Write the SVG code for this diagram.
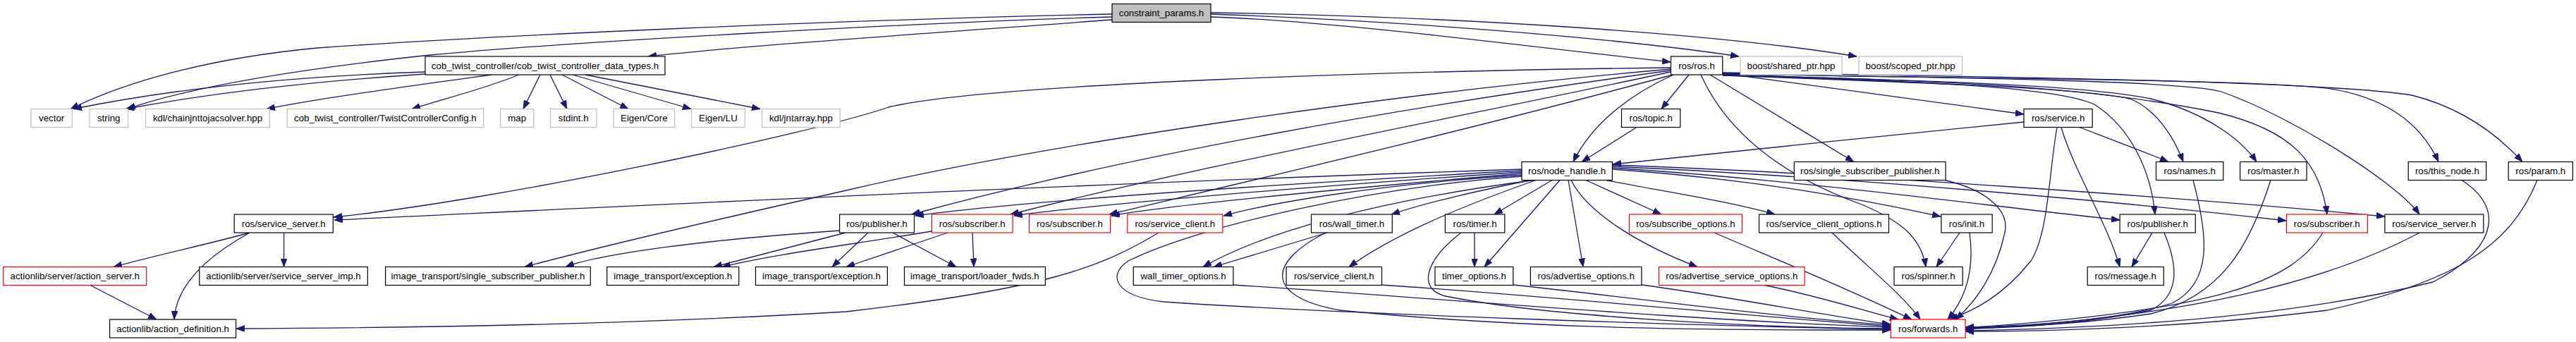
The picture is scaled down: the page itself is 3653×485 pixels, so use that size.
<svg xmlns="http://www.w3.org/2000/svg" width="3653" height="485" viewBox="0 0 3653 485">
<style>
.bg{fill:#ffffff}
.n rect{fill:#ffffff;stroke:#000000;stroke-width:1.2}
.g rect{fill:#ffffff;stroke:#bfbfbf;stroke-width:1.2}
.r rect{fill:#ffffff;stroke:#ff0000;stroke-width:1.2}
.root rect{fill:#bfbfbf;stroke:#000000;stroke-width:1.2}
text{font-family:"Liberation Sans",Arial,sans-serif;font-size:13.3px;fill:#000000;text-anchor:middle}
#edges path{fill:none;stroke:#191970;stroke-width:1.3;marker-end:url(#arr)}
</style>
<defs>
<marker id="arr" viewBox="0 0 12 9" refX="12" refY="4.5" markerWidth="12" markerHeight="9" orient="auto" markerUnits="userSpaceOnUse">
<path d="M0,0 L12,4.5 L0,9 z" fill="#191970" stroke="#191970" stroke-width="0.8"/>
</marker>
</defs>
<rect class="bg" x="0" y="0" width="3653" height="485"/>
<g id="edges">
<path d="M1577,20 C1200,28 700,50 450,68 C300,82 180,115 100,154.5"/>
<path d="M1577,24 C1300,32 800,60 610,78 C450,95 280,120 180,154.5"/>
<path d="M1577,28 C1350,45 1050,65 919,80"/>
<path d="M1717,24 C1900,30 2200,70 2369,88"/>
<path d="M1717,20 C2000,30 2300,55 2466,80"/>
<path d="M1717,18 C2100,24 2450,50 2633,80"/>
<path d="M603,102 C420,108 250,125 104,154.5"/>
<path d="M603,105 C450,115 300,132 178,154.5"/>
<path d="M697,106 C560,125 450,140 378,154.5"/>
<path d="M736,106 C690,125 630,140 584,154.5"/>
<path d="M766,106 L742,154.5"/>
<path d="M780,106 L804,154.5"/>
<path d="M797,106 L891,154.5"/>
<path d="M812,106 L980,154.5"/>
<path d="M830,106 L1078,154.5"/>
<path d="M2395,106 L2356,154.5"/>
<path d="M2373,106 C2320,130 2260,170 2231,229.5"/>
<path d="M2321,180.5 L2243,229.5"/>
<path d="M2425,106 L2629,229.5"/>
<path d="M2443,104 L2870,162"/>
<path d="M2369,96 C2000,100 1400,118 1260,152 C1150,190 700,285 473,308"/>
<path d="M2369,98 C2000,130 1500,200 1200,270 C1000,315 850,350 744,378.5"/>
<path d="M2369,100 C2000,150 1600,220 1293,304"/>
<path d="M2369,102 C2100,160 1700,235 1433,304"/>
<path d="M2372,106 C2100,180 1800,250 1573,304"/>
<path d="M2412,106 C2450,190 2530,250 2640,290 C2700,315 2725,340 2731,378.5"/>
<path d="M2443,104 C2700,112 3150,110 3300,125 C3400,140 3440,190 3458,229.5"/>
<path d="M2443,103 C2800,108 3300,115 3420,135 C3500,155 3550,200 3577,229.5"/>
<path d="M2443,105 C2800,110 3100,115 3150,130 C3250,165 3400,260 3431,304"/>
<path d="M2443,106 C2750,115 2950,120 3050,140 C3130,160 3180,200 3200,229.5"/>
<path d="M2443,107 C2750,118 2950,125 3020,140 C3060,155 3085,200 3096,229.5"/>
<path d="M2443,106 C2750,115 2950,120 3146,160 C3250,185 3290,230 3300,304"/>
<path d="M2443,107 C2750,115 2920,125 2970,148 C3020,180 3050,240 3056,304"/>
<path d="M2870,173 C2700,190 2450,215 2287,233"/>
<path d="M2949,180.5 C3000,200 3040,215 3075,229.5"/>
<path d="M2923,180.5 C2940,240 2990,320 3006,378.5"/>
<path d="M2917,180.5 C2905,250 2905,330 2880,370 C2840,420 2800,440 2765,453"/>
<path d="M2158,240 C1500,262 900,292 474,312"/>
<path d="M2158,242 C1800,262 1450,285 1298,306"/>
<path d="M2158,244 C1850,265 1550,290 1438,306"/>
<path d="M2158,246 C1900,268 1650,292 1576,306"/>
<path d="M2160,248 C1950,262 1800,288 1735,306"/>
<path d="M2158,250 C1950,265 1700,320 1600,370 C1570,390 1580,420 1650,428 C1900,445 2400,462 2681,467"/>
<path d="M2170,255.5 C2100,270 2030,285 1973,304"/>
<path d="M2175,255.5 C1950,285 1790,330 1706,378.5"/>
<path d="M2178,255.5 C2080,290 1980,330 1913,378.5"/>
<path d="M2201,255.5 L2119,304"/>
<path d="M2212,255.5 L2105,378.5"/>
<path d="M2224,255.5 L2245,378.5"/>
<path d="M2228,255.5 C2250,300 2320,345 2407,378.5"/>
<path d="M2249,255.5 L2356,304"/>
<path d="M2278,255.5 C2350,270 2450,285 2517,304"/>
<path d="M2286,240 C2500,255 2650,285 2752,307"/>
<path d="M2286,238 C2550,255 2800,290 3006,312"/>
<path d="M2286,236 C2600,250 3000,285 3242,313"/>
<path d="M2286,234 C2600,245 3100,280 3382,307"/>
<path d="M354,330 C300,345 230,360 161,378.5"/>
<path d="M402.6,330 L402.6,378.5"/>
<path d="M354,330 C300,360 250,400 247,453"/>
<path d="M128,404.5 L222,453"/>
<path d="M1643,330 C1560,380 1480,410 1200,442 C900,460 600,465 335,466"/>
<path d="M1190.6,327 C1000,340 850,360 802,378.5"/>
<path d="M1199,330 L1012,378.5"/>
<path d="M1231,330 L1180,378.5"/>
<path d="M1266,330 L1356,378.5"/>
<path d="M1321,328 C1200,348 1100,360 1024,378.5"/>
<path d="M1344,330 L1200,378.5"/>
<path d="M1379,330 L1381,378.5"/>
<path d="M1882,330 L1721,378.5"/>
<path d="M1880,330 C1800,370 1790,420 1900,440 C2200,470 2500,468 2681,468"/>
<path d="M2091,330 L2091,378.5"/>
<path d="M2072,330 C2020,370 2010,410 2050,420 C2200,450 2500,465 2681,466"/>
<path d="M1959,404 C2200,420 2500,450 2681,463"/>
<path d="M2146,404 C2300,420 2500,448 2681,461"/>
<path d="M2328,404 C2450,420 2600,450 2681,460"/>
<path d="M1749,404 C2000,420 2400,455 2681,464"/>
<path d="M2500,404 C2580,420 2640,440 2692,453"/>
<path d="M2431,330 C2500,360 2600,400 2711,453"/>
<path d="M2598,330 C2650,380 2700,420 2723,453"/>
<path d="M2779,330 L2746,378.5"/>
<path d="M2793,330 C2800,380 2790,420 2762,453"/>
<path d="M2758,255.5 C2820,270 2850,300 2843,330 C2830,390 2800,430 2773,453"/>
<path d="M3052,330 L3023,378.5"/>
<path d="M3069,330 C3090,380 3090,420 3050,440 C2950,460 2850,465 2787,466"/>
<path d="M3110,255.5 C3130,330 3140,400 3080,430 C3000,455 2880,462 2787,464"/>
<path d="M3220,255.5 C3190,350 3150,420 3050,445 C2950,460 2850,464 2787,465"/>
<path d="M3294,330 C3250,400 3150,440 2787,465"/>
<path d="M3431,330 C3300,400 3100,450 2787,467"/>
<path d="M3491,255.5 C3560,300 3530,360 3450,400 C3250,450 3000,465 2787,469"/>
<path d="M3598,255.5 C3560,350 3480,400 3300,440 C3100,465 2900,470 2787,470"/>
</g>
<g id="n0" class="root"><rect x="1577" y="5.5" width="140" height="26"/><text x="1647" y="23">constraint_params.h</text></g>
<g id="n1" class="n"><rect x="603" y="80" width="340" height="26"/><text x="773" y="97.5">cob_twist_controller/cob_twist_controller_data_types.h</text></g>
<g id="n2" class="n"><rect x="2369.5" y="80" width="73.3" height="26"/><text x="2406" y="97.5">ros/ros.h</text></g>
<g id="n3" class="g"><rect x="2468" y="80" width="144" height="26"/><text x="2540" y="97.5">boost/shared_ptr.hpp</text></g>
<g id="n4" class="g"><rect x="2636" y="80" width="146.5" height="26"/><text x="2709.2" y="97.5">boost/scoped_ptr.hpp</text></g>
<g id="n5" class="g"><rect x="44" y="154.5" width="58.3" height="26"/><text x="73.2" y="172">vector</text></g>
<g id="n6" class="g"><rect x="127" y="154.5" width="54.5" height="26"/><text x="154.2" y="172">string</text></g>
<g id="n7" class="g"><rect x="206.6" y="154.5" width="175.8" height="26"/><text x="294.5" y="172">kdl/chainjnttojacsolver.hpp</text></g>
<g id="n8" class="g"><rect x="407.3" y="154.5" width="278.3" height="26"/><text x="546.4" y="172">cob_twist_controller/TwistControllerConfig.h</text></g>
<g id="n9" class="g"><rect x="709.7" y="154.5" width="47.1" height="26"/><text x="733.2" y="172">map</text></g>
<g id="n10" class="g"><rect x="780.5" y="154.5" width="65.4" height="26"/><text x="813.2" y="172">stdint.h</text></g>
<g id="n11" class="g"><rect x="870" y="154.5" width="86.7" height="26"/><text x="913.3" y="172">Eigen/Core</text></g>
<g id="n12" class="g"><rect x="980.5" y="154.5" width="75.8" height="26"/><text x="1018.4" y="172">Eigen/LU</text></g>
<g id="n13" class="g"><rect x="1080.5" y="154.5" width="110.8" height="26"/><text x="1135.9" y="172">kdl/jntarray.hpp</text></g>
<g id="n14" class="n"><rect x="2299.5" y="154.5" width="83.3" height="26"/><text x="2341.2" y="172">ros/topic.h</text></g>
<g id="n15" class="n"><rect x="2870" y="154.5" width="97.2" height="26"/><text x="2918.6" y="172">ros/service.h</text></g>
<g id="n16" class="n"><rect x="2158" y="229.5" width="128.4" height="26"/><text x="2222.2" y="247">ros/node_handle.h</text></g>
<g id="n17" class="n"><rect x="2544.3" y="229.5" width="214.8" height="26"/><text x="2651.7" y="247">ros/single_subscriber_publisher.h</text></g>
<g id="n18" class="n"><rect x="3057.5" y="229.5" width="95.3" height="26"/><text x="3105.2" y="247">ros/names.h</text></g>
<g id="n19" class="n"><rect x="3176.6" y="229.5" width="94.5" height="26"/><text x="3223.8" y="247">ros/master.h</text></g>
<g id="n20" class="n"><rect x="3415.2" y="229.5" width="110.4" height="26"/><text x="3470.4" y="247">ros/this_node.h</text></g>
<g id="n21" class="n"><rect x="3557.2" y="229.5" width="91.2" height="26"/><text x="3602.8" y="247">ros/param.h</text></g>
<g id="n22" class="n"><rect x="332.2" y="304" width="140.1" height="26"/><text x="402.2" y="321.5">ros/service_server.h</text></g>
<g id="n23" class="n"><rect x="1190.6" y="304" width="105.9" height="26"/><text x="1243.5" y="321.5">ros/publisher.h</text></g>
<g id="n24" class="r"><rect x="1321.4" y="304" width="114.7" height="26"/><text x="1378.7" y="321.5">ros/subscriber.h</text></g>
<g id="n25" class="r"><rect x="1459.5" y="304" width="115.1" height="26"/><text x="1517" y="321.5">ros/subscriber.h</text></g>
<g id="n26" class="r"><rect x="1598.8" y="304" width="135" height="26"/><text x="1666.3" y="321.5">ros/service_client.h</text></g>
<g id="n27" class="n"><rect x="1859.5" y="304" width="114.8" height="26"/><text x="1916.9" y="321.5">ros/wall_timer.h</text></g>
<g id="n28" class="n"><rect x="2049.4" y="304" width="84.4" height="26"/><text x="2091.6" y="321.5">ros/timer.h</text></g>
<g id="n29" class="r"><rect x="2310.4" y="304" width="160" height="26"/><text x="2390.4" y="321.5">ros/subscribe_options.h</text></g>
<g id="n30" class="n"><rect x="2494.5" y="304" width="184" height="26"/><text x="2586.5" y="321.5">ros/service_client_options.h</text></g>
<g id="n31" class="n"><rect x="2752.9" y="304" width="72.3" height="26"/><text x="2789" y="321.5">ros/init.h</text></g>
<g id="n32" class="n"><rect x="3006.1" y="304" width="107.2" height="26"/><text x="3059.7" y="321.5">ros/publisher.h</text></g>
<g id="n33" class="r"><rect x="3242.4" y="304" width="114.9" height="26"/><text x="3299.8" y="321.5">ros/subscriber.h</text></g>
<g id="n34" class="n"><rect x="3381.9" y="304" width="139.9" height="26"/><text x="3451.8" y="321.5">ros/service_server.h</text></g>
<g id="n35" class="r"><rect x="4.7" y="378.5" width="203" height="26"/><text x="106.2" y="396">actionlib/server/action_server.h</text></g>
<g id="n36" class="n"><rect x="282.8" y="378.5" width="238.5" height="26"/><text x="402" y="396">actionlib/server/service_server_imp.h</text></g>
<g id="n37" class="n"><rect x="546.6" y="378.5" width="290.7" height="26"/><text x="692" y="396">image_transport/single_subscriber_publisher.h</text></g>
<g id="n38" class="n"><rect x="860.7" y="378.5" width="187.1" height="26"/><text x="954.2" y="396">image_transport/exception.h</text></g>
<g id="n39" class="n"><rect x="1071.5" y="378.5" width="186.9" height="26"/><text x="1165" y="396">image_transport/exception.h</text></g>
<g id="n40" class="n"><rect x="1282.5" y="378.5" width="199.9" height="26"/><text x="1382.4" y="396">image_transport/loader_fwds.h</text></g>
<g id="n41" class="n"><rect x="1607.3" y="378.5" width="141.6" height="26"/><text x="1678.1" y="396">wall_timer_options.h</text></g>
<g id="n42" class="n"><rect x="1824.1" y="378.5" width="135.4" height="26"/><text x="1891.8" y="396">ros/service_client.h</text></g>
<g id="n43" class="n"><rect x="2035" y="378.5" width="110.8" height="26"/><text x="2090.4" y="396">timer_options.h</text></g>
<g id="n44" class="n"><rect x="2170.4" y="378.5" width="157.5" height="26"/><text x="2249.2" y="396">ros/advertise_options.h</text></g>
<g id="n45" class="r"><rect x="2352.4" y="378.5" width="206.7" height="26"/><text x="2455.8" y="396">ros/advertise_service_options.h</text></g>
<g id="n46" class="n"><rect x="2686" y="378.5" width="97.2" height="26"/><text x="2734.6" y="396">ros/spinner.h</text></g>
<g id="n47" class="n"><rect x="2960.2" y="378.5" width="108.1" height="26"/><text x="3014.2" y="396">ros/message.h</text></g>
<g id="n48" class="n"><rect x="155.6" y="453" width="179" height="26"/><text x="245.1" y="470.5">actionlib/action_definition.h</text></g>
<g id="n49" class="r"><rect x="2681.3" y="453" width="105.8" height="26"/><text x="2734.2" y="470.5">ros/forwards.h</text></g>
</svg>
